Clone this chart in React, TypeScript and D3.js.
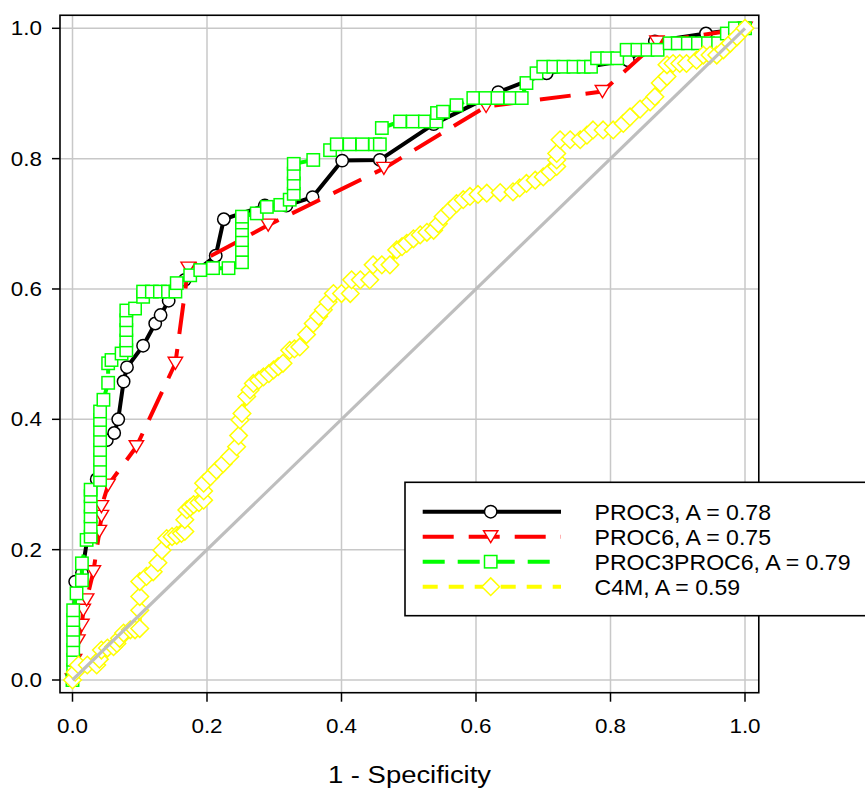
import React from "react";
import * as d3 from "d3";

// ---- data ----
const ticks = [0, 0.2, 0.4, 0.6, 0.8, 1.0];
const tickLabels = ["0.0", "0.2", "0.4", "0.6", "0.8", "1.0"];
const xTitle = "1 - Specificity";

const seriesNames = ["PROC3", "PROC6", "PROC3PROC6", "C4M"];
const seriesAUC = ["0.78", "0.75", "0.79", "0.59"];
const seriesColors = ["#000000", "#FF0000", "#00FF00", "#FFFF00"];

const proc3X = [0, 0.004, 0.014, 0.036, 0.051, 0.062, 0.068, 0.076, 0.081, 0.105, 0.123, 0.131, 0.143, 0.167, 0.213, 0.225, 0.286, 0.318, 0.357, 0.401, 0.457, 0.537, 0.633, 0.705, 0.826, 0.866, 0.942, 1];
const proc3Y = [0, 0.151, 0.164, 0.308, 0.368, 0.379, 0.4, 0.458, 0.48, 0.513, 0.547, 0.56, 0.582, 0.614, 0.651, 0.707, 0.728, 0.728, 0.741, 0.797, 0.798, 0.853, 0.902, 0.931, 0.951, 0.98, 0.992, 1];

const proc6X = [0, 0.003, 0.008, 0.014, 0.016, 0.021, 0.031, 0.04, 0.043, 0.043, 0.053, 0.095, 0.153, 0.172, 0.291, 0.463, 0.615, 0.788, 0.869, 1];
const proc6Y = [0, 0.03, 0.06, 0.084, 0.107, 0.123, 0.166, 0.228, 0.251, 0.266, 0.299, 0.358, 0.486, 0.632, 0.698, 0.785, 0.88, 0.903, 0.979, 1];

const proc36X = [0, 0.001, 0.001, 0.001, 0.001, 0.001, 0.001, 0.001, 0.006, 0.014, 0.014, 0.021, 0.027, 0.027, 0.027, 0.027, 0.027, 0.027,
  0.041, 0.041, 0.041, 0.041, 0.041, 0.041, 0.041, 0.041, 0.046, 0.053, 0.053, 0.058, 0.073, 0.08, 0.08, 0.08, 0.08, 0.08, 0.093, 0.105,
  0.105, 0.118, 0.13, 0.142, 0.153, 0.155, 0.175, 0.19, 0.209, 0.232, 0.252, 0.252, 0.252, 0.252, 0.252, 0.252, 0.274, 0.289, 0.309, 0.323,
  0.329, 0.329, 0.329, 0.329, 0.358, 0.383, 0.393, 0.412, 0.431, 0.45, 0.457, 0.46, 0.487, 0.506, 0.524, 0.541, 0.542, 0.551, 0.571, 0.596,
  0.614, 0.632, 0.651, 0.668, 0.675, 0.69, 0.7, 0.715, 0.73, 0.745, 0.76, 0.771, 0.78, 0.795, 0.81, 0.824, 0.84, 0.855, 0.87, 0.888, 0.9,
  0.915, 0.93, 0.945, 0.96, 0.973, 0.985, 1];
const proc36Y = [0, 0.015, 0.031, 0.046, 0.061, 0.077, 0.092, 0.107, 0.133, 0.153, 0.179, 0.215, 0.22, 0.235, 0.251, 0.266, 0.282, 0.292,
  0.307, 0.322, 0.338, 0.353, 0.368, 0.384, 0.399, 0.412, 0.43, 0.456, 0.486, 0.491, 0.501, 0.506, 0.521, 0.537, 0.552, 0.567, 0.57, 0.588,
  0.596, 0.596, 0.596, 0.596, 0.596, 0.609, 0.621, 0.629, 0.632, 0.632, 0.641, 0.66, 0.675, 0.69, 0.702, 0.711, 0.716, 0.726, 0.729, 0.737,
  0.746, 0.762, 0.777, 0.792, 0.798, 0.813, 0.822, 0.822, 0.822, 0.822, 0.822, 0.847, 0.857, 0.857, 0.857, 0.857, 0.87, 0.872, 0.882, 0.893,
  0.893, 0.893, 0.893, 0.893, 0.916, 0.931, 0.941, 0.941, 0.941, 0.941, 0.941, 0.941, 0.954, 0.954, 0.954, 0.967, 0.967, 0.967, 0.967, 0.977, 0.977,
  0.977, 0.977, 0.977, 0.977, 0.992, 1, 1];

const c4mX = [0, 0.004, 0.009, 0.022, 0.036, 0.04, 0.043, 0.052, 0.061, 0.066, 0.07, 0.076, 0.086, 0.093, 0.1, 0.1, 0.1, 0.1, 0.11, 0.12,
  0.127, 0.133, 0.14, 0.148, 0.155, 0.162, 0.167, 0.167, 0.17, 0.175, 0.18, 0.188, 0.195, 0.195, 0.195, 0.205, 0.214, 0.224, 0.234, 0.244,
  0.247, 0.249, 0.252, 0.259, 0.264, 0.269, 0.277, 0.284, 0.292, 0.299, 0.306, 0.313, 0.323, 0.33, 0.338, 0.348, 0.358, 0.366, 0.373, 0.38,
  0.388, 0.4, 0.413, 0.415, 0.428, 0.442, 0.447, 0.46, 0.472, 0.482, 0.49, 0.497, 0.507, 0.517, 0.527, 0.537, 0.544, 0.551, 0.561, 0.571,
  0.581, 0.591, 0.603, 0.616, 0.636, 0.655, 0.665, 0.675, 0.688, 0.7, 0.71, 0.72, 0.72, 0.72, 0.725, 0.74, 0.755, 0.765, 0.774, 0.789,
  0.804, 0.819, 0.829, 0.844, 0.859, 0.866, 0.874, 0.884, 0.884, 0.893, 0.903, 0.913, 0.928, 0.938, 0.948, 0.958, 0.968, 0.978, 0.988, 1];
const c4mY = [0, 0.012, 0.023, 0.023, 0.023, 0.032, 0.046, 0.049, 0.051, 0.056, 0.064, 0.072, 0.077, 0.077, 0.079, 0.107, 0.128, 0.151, 0.159, 0.166,
  0.18, 0.199, 0.217, 0.22, 0.222, 0.225, 0.228, 0.246, 0.261, 0.265, 0.269, 0.272, 0.276, 0.29, 0.302, 0.312, 0.322, 0.332, 0.343, 0.358,
  0.375, 0.399, 0.409, 0.435, 0.445, 0.455, 0.46, 0.465, 0.47, 0.476, 0.481, 0.486, 0.506, 0.508, 0.511, 0.53, 0.547, 0.558, 0.568, 0.58,
  0.593, 0.593, 0.593, 0.614, 0.614, 0.614, 0.637, 0.637, 0.637, 0.66, 0.665, 0.67, 0.677, 0.683, 0.687, 0.69, 0.7, 0.711, 0.721, 0.731,
  0.737, 0.742, 0.745, 0.747, 0.748, 0.749, 0.755, 0.762, 0.767, 0.772, 0.78, 0.788, 0.798, 0.808, 0.829, 0.829, 0.829, 0.836, 0.844, 0.844,
  0.844, 0.854, 0.864, 0.876, 0.887, 0.895, 0.916, 0.926, 0.944, 0.946, 0.946, 0.946, 0.951, 0.959, 0.959, 0.959, 0.967, 0.977, 0.987, 1];

const seriesX = [proc3X, proc6X, proc36X, c4mX];
const seriesY = [proc3Y, proc6Y, proc36Y, c4mY];

// ---- layout ----
const W = 865, H = 788;
const x = d3.scaleLinear().domain([0, 1]).range([72.5, 745]);
const y = d3.scaleLinear().domain([0, 1]).range([680, 28.3]);
const xMin = -0.0186, xMax = 1.0205, yMin = -0.0195, yMax = 1.02;

const dashes = ["none", "31 15", "22 13", "15 11"];
const FONT = "'Liberation Sans', Arial, Helvetica, sans-serif";

function Marker({ kind, cx, cy, color }: { kind: number; cx: number; cy: number; color: string }) {
  if (kind === 0) return <circle cx={cx} cy={cy} r={6.2} fill="#fff" stroke={color} strokeWidth={1.5} />;
  if (kind === 1) {
    const w = 7.2, h = 12;
    return <path d={`M${cx - w},${cy - h / 2}L${cx + w},${cy - h / 2}L${cx},${cy + h / 2}Z`} fill="#fff" stroke={color} strokeWidth={1.4} />;
  }
  if (kind === 2) return <rect x={cx - 6.2} y={cy - 6.2} width={12.4} height={12.4} fill="#fff" stroke={color} strokeWidth={1.5} />;
  const r = 8.8;
  return <path d={`M${cx},${cy - r}L${cx + r},${cy}L${cx},${cy + r}L${cx - r},${cy}Z`} fill="#fff" stroke={color} strokeWidth={1.5} />;
}

export default function App() {
  const line = d3.line<[number, number]>().x(d => x(d[0])).y(d => y(d[1]));
  const bx0 = x(xMin), bx1 = x(xMax), by0 = y(yMax), by1 = y(yMin);

  const legX0 = 422.7, legX1 = 561, legMark = 490.7, legTextX = 594.5;
  const legRows = [511.7, 536.7, 561.7, 586.7];

  return (
    <svg width={W} height={H} style={{ position: "absolute", left: 0, top: 0, background: "#fff" }} fontFamily={FONT}>
      <rect x={0} y={0} width={W} height={H} fill="#fff" />
      {/* grid */}
      {ticks.map((t, i) => (
        <g key={"g" + i}>
          <line x1={x(t)} x2={x(t)} y1={by0} y2={by1} stroke="#c8c8c8" strokeWidth={1.5} />
          <line x1={bx0} x2={bx1} y1={y(t)} y2={y(t)} stroke="#c8c8c8" strokeWidth={1.5} />
        </g>
      ))}
      {/* series */}
      {seriesX.map((xs, si) => {
        const pts: [number, number][] = xs.map((v, j) => [v, seriesY[si][j]]);
        return (
          <g key={"s" + si}>
            <path d={line(pts) || ""} fill="none" stroke={seriesColors[si]} strokeWidth={4}
              strokeDasharray={dashes[si]} strokeLinejoin="round" />
            {pts.map((p, j) => (
              <Marker key={j} kind={si} cx={x(p[0])} cy={y(p[1])} color={seriesColors[si]} />
            ))}
          </g>
        );
      })}
      {/* diagonal */}
      <line x1={x(0)} y1={y(0)} x2={x(1)} y2={y(1)} stroke="#bebebe" strokeWidth={3.2} />
      {/* box */}
      <rect x={bx0} y={by0} width={bx1 - bx0} height={by1 - by0} fill="none" stroke="#000" strokeWidth={1.6} />
      {/* axes ticks and labels */}
      {ticks.map((t, i) => (
        <g key={"t" + i}>
          <line x1={x(t)} x2={x(t)} y1={by1} y2={by1 + 9} stroke="#000" strokeWidth={1.5} />
          <text transform={`translate(${x(t)},733) scale(1.15,1)`} textAnchor="middle" fontSize={19.5} fill="#000">{tickLabels[i]}</text>
          <line x1={bx0 - 8} x2={bx0} y1={y(t)} y2={y(t)} stroke="#000" strokeWidth={1.5} />
          <text transform={`translate(42,${y(t) + 7}) scale(1.15,1)`} textAnchor="end" fontSize={19.5} fill="#000">{tickLabels[i]}</text>
        </g>
      ))}
      <text transform={`translate(409.5,783.3) scale(1.12,1)`} textAnchor="middle" fontSize={24.5} fill="#000">{xTitle}</text>
      {/* legend */}
      <rect x={405} y={482.3} width={470} height={133.4} fill="#fff" stroke="#000" strokeWidth={1.6} />
      {seriesNames.map((n, i) => (
        <g key={"l" + i}>
          <line x1={legX0} x2={legX1} y1={legRows[i]} y2={legRows[i]} stroke={seriesColors[i]} strokeWidth={4} strokeDasharray={dashes[i]} />
          <Marker kind={i} cx={legMark} cy={legRows[i]} color={seriesColors[i]} />
          <text transform={`translate(${legTextX},${legRows[i] + 8}) scale(1.05,1)`} fontSize={22} fill="#000">{`${n}, A = ${seriesAUC[i]}`}</text>
        </g>
      ))}
    </svg>
  );
}
